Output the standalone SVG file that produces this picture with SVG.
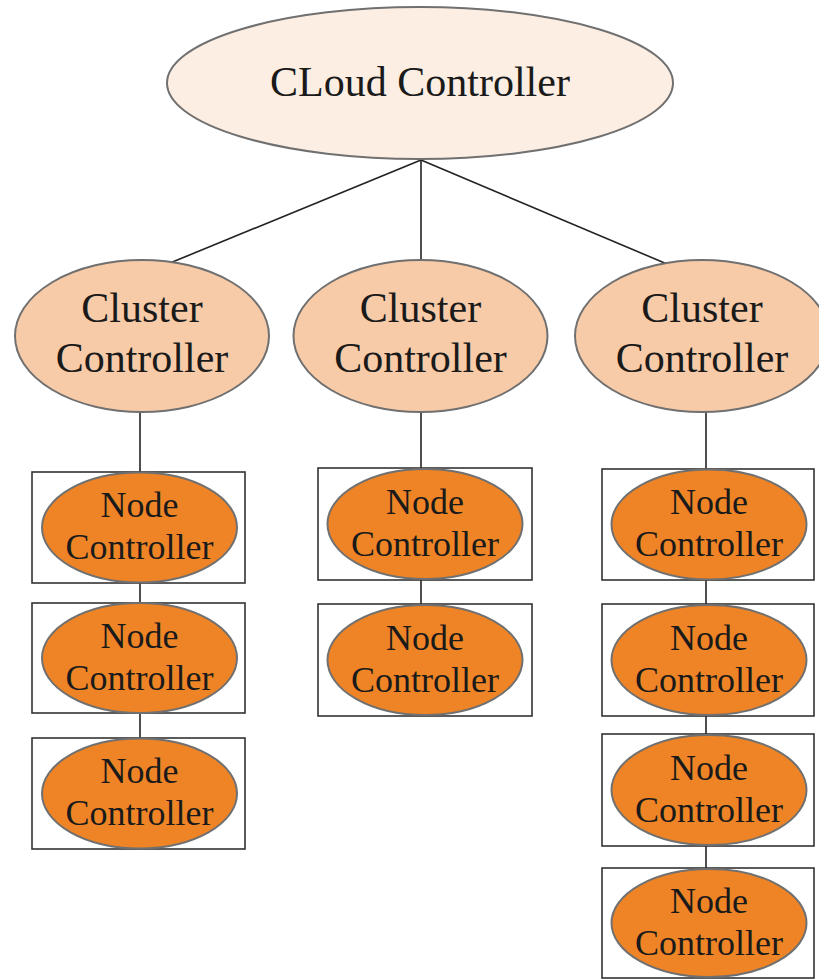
<svg xmlns="http://www.w3.org/2000/svg" width="819" height="979" viewBox="0 0 819 979">
<style>
.t{font-family:"Liberation Serif","Times New Roman",serif;fill:#1a1a1a;text-anchor:middle}
.cloud{fill:#FCEEE3;stroke:#707070;stroke-width:2}
.clu{fill:#F8CBA8;stroke:#707070;stroke-width:2}
.nd{fill:#EF8426;stroke:#707070;stroke-width:2}
.box{fill:#fff;stroke:#333;stroke-width:1.6}
.c{stroke:#222;stroke-width:1.6;fill:none}
</style>
<rect width="819" height="979" fill="#fff"/>
<g id="connectors">
<line class="c" x1="421" y1="160" x2="170" y2="263"/>
<line class="c" x1="421" y1="160" x2="421" y2="261"/>
<line class="c" x1="421" y1="160" x2="667" y2="264"/>
<line class="c" x1="140" y1="411" x2="140" y2="472"/>
<line class="c" x1="140" y1="583" x2="140" y2="603"/>
<line class="c" x1="140" y1="713" x2="140" y2="738"/>
<line class="c" x1="421" y1="411" x2="421" y2="468"/>
<line class="c" x1="421" y1="580" x2="421" y2="604"/>
<line class="c" x1="706" y1="411" x2="706" y2="469"/>
<line class="c" x1="706" y1="580" x2="706" y2="604"/>
<line class="c" x1="706" y1="716" x2="706" y2="734"/>
<line class="c" x1="706" y1="846" x2="706" y2="868"/>
</g>
<g id="cloud">
<ellipse class="cloud" cx="420" cy="83" rx="253" ry="76"/>
<text class="t" x="420" y="96" font-size="42">CLoud Controller</text>
</g>
<g id="cluster1">
<ellipse class="clu" cx="142" cy="336" rx="127" ry="76"/>
<text class="t" x="142" y="322" font-size="42">Cluster</text>
<text class="t" x="142" y="372" font-size="42">Controller</text>
</g>
<g id="cluster2">
<ellipse class="clu" cx="420.5" cy="336" rx="127" ry="76"/>
<text class="t" x="420.5" y="322" font-size="42">Cluster</text>
<text class="t" x="420.5" y="372" font-size="42">Controller</text>
</g>
<g id="cluster3">
<ellipse class="clu" cx="702" cy="336" rx="127" ry="76"/>
<text class="t" x="702" y="322" font-size="42">Cluster</text>
<text class="t" x="702" y="372" font-size="42">Controller</text>
</g>
<g id="node-l1">
<rect class="box" x="32" y="472" width="213" height="111"/>
<ellipse class="nd" cx="139.5" cy="527.5" rx="97.5" ry="55"/>
<text class="t" x="139.5" y="517" font-size="36">Node</text>
<text class="t" x="139.5" y="559" font-size="36">Controller</text>
</g>
<g id="node-l2">
<rect class="box" x="32" y="603" width="213" height="110"/>
<ellipse class="nd" cx="139.5" cy="658" rx="97.5" ry="55"/>
<text class="t" x="139.5" y="647.5" font-size="36">Node</text>
<text class="t" x="139.5" y="689.5" font-size="36">Controller</text>
</g>
<g id="node-l3">
<rect class="box" x="32" y="738" width="213" height="111"/>
<ellipse class="nd" cx="139.5" cy="793.5" rx="97.5" ry="55"/>
<text class="t" x="139.5" y="783" font-size="36">Node</text>
<text class="t" x="139.5" y="825" font-size="36">Controller</text>
</g>
<g id="node-m1">
<rect class="box" x="318" y="468" width="214" height="112"/>
<ellipse class="nd" cx="425" cy="524" rx="97.5" ry="55"/>
<text class="t" x="425" y="513.5" font-size="36">Node</text>
<text class="t" x="425" y="555.5" font-size="36">Controller</text>
</g>
<g id="node-m2">
<rect class="box" x="318" y="604" width="214" height="112"/>
<ellipse class="nd" cx="425" cy="660" rx="97.5" ry="55"/>
<text class="t" x="425" y="649.5" font-size="36">Node</text>
<text class="t" x="425" y="691.5" font-size="36">Controller</text>
</g>
<g id="node-r1">
<rect class="box" x="602" y="469" width="212" height="111"/>
<ellipse class="nd" cx="709" cy="524.5" rx="97.5" ry="55"/>
<text class="t" x="709" y="514" font-size="36">Node</text>
<text class="t" x="709" y="556" font-size="36">Controller</text>
</g>
<g id="node-r2">
<rect class="box" x="602" y="604" width="212" height="112"/>
<ellipse class="nd" cx="709" cy="660" rx="97.5" ry="55"/>
<text class="t" x="709" y="649.5" font-size="36">Node</text>
<text class="t" x="709" y="691.5" font-size="36">Controller</text>
</g>
<g id="node-r3">
<rect class="box" x="602" y="734" width="212" height="112"/>
<ellipse class="nd" cx="709" cy="790" rx="97.5" ry="55"/>
<text class="t" x="709" y="779.5" font-size="36">Node</text>
<text class="t" x="709" y="821.5" font-size="36">Controller</text>
</g>
<g id="node-r4">
<rect class="box" x="602" y="868" width="212" height="110"/>
<ellipse class="nd" cx="709" cy="923" rx="97.5" ry="54"/>
<text class="t" x="709" y="912.5" font-size="36">Node</text>
<text class="t" x="709" y="954.5" font-size="36">Controller</text>
</g>
</svg>
